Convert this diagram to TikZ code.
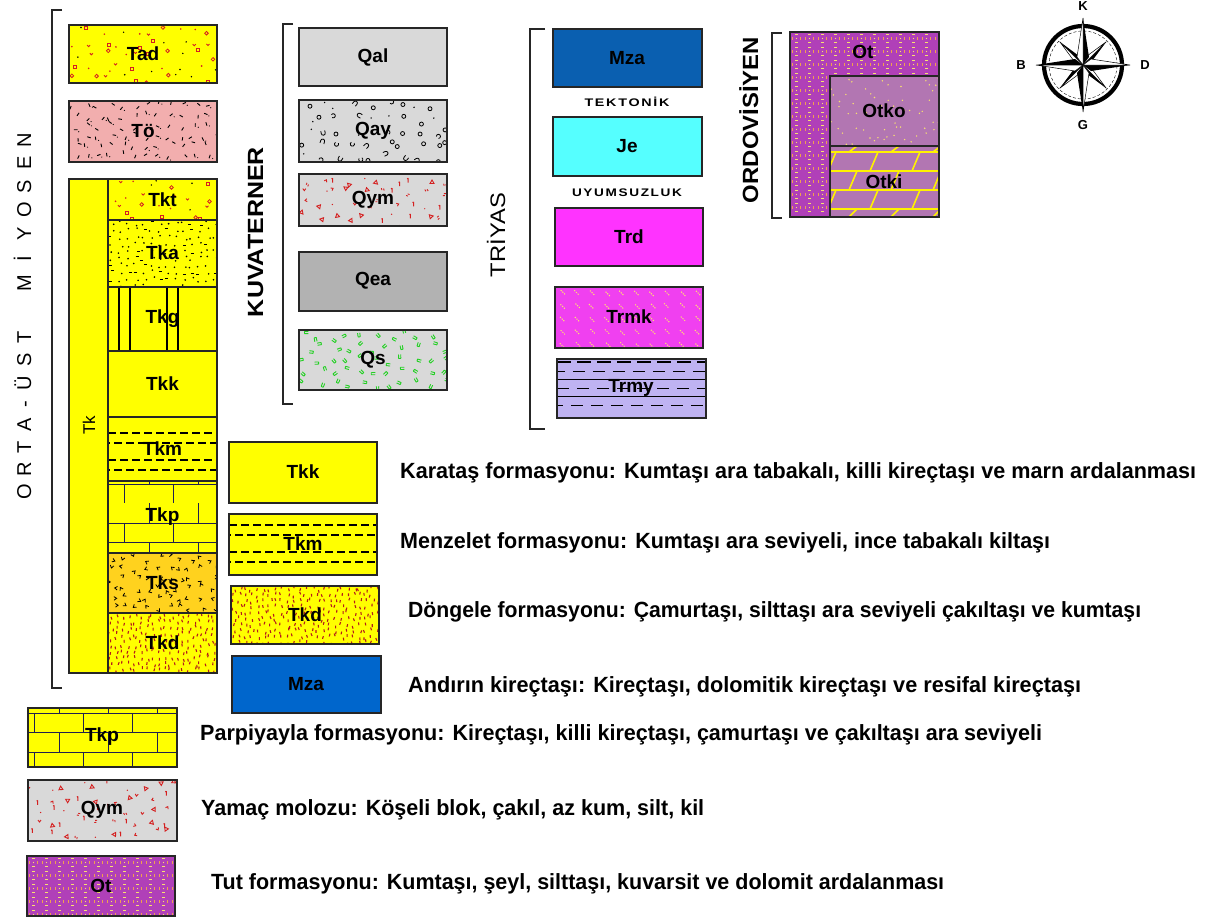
\documentclass[tikz,border=0pt]{standalone}
\usepackage{fontspec}
\usepackage{graphicx}
\setmainfont{Liberation Sans}
\usetikzlibrary{calc}
\newbox\fitbox
\newdimen\fitdim
\newcommand\fitw[2]{\setbox\fitbox=\hbox{#2}\fitdim=\wd\fitbox\pgfmathsetmacro\fitf{#1/\the\fitdim}\scalebox{\fitf}[1]{\box\fitbox}}
\definecolor{yel}{HTML}{FFFF00}
\definecolor{topink}{HTML}{F2AEAE}
\definecolor{tksor}{HTML}{FFD21E}
\definecolor{mzaA}{HTML}{0A5FB0}
\definecolor{mzaB}{HTML}{0066CC}
\definecolor{jecy}{HTML}{55FFFF}
\definecolor{trmag}{HTML}{FF33FF}
\definecolor{trmk}{HTML}{F040F0}
\definecolor{trmy}{HTML}{BFB3F2}
\definecolor{qlight}{HTML}{D9D9D9}
\definecolor{qdark}{HTML}{B2B2B2}
\definecolor{otpur}{HTML}{B040B8}
\definecolor{otko}{HTML}{B276B2}
\definecolor{redm}{HTML}{D42020}
\definecolor{greenm}{HTML}{22D022}
\definecolor{otdot}{HTML}{F0A050}
\definecolor{otdot2}{HTML}{F8E070}
\definecolor{brickln}{HTML}{202050}
\definecolor{trmkdash}{HTML}{FFE070}
% jittered scatter: x1 y1 x2 y2 dx dy jitter code
\newcommand\jscatter[8]{%
\begin{scope}
\clip (#1,#2) rectangle (#3,#4);
\pgfmathtruncatemacro\nxx{(#3-#1)/#5}%
\pgfmathtruncatemacro\nyy{(#4-#2)/#6}%
\foreach \ii in {0,...,\nxx}{%
\foreach \jj in {0,...,\nyy}{%
\pgfmathsetmacro\px{#1+(\ii+0.5)*#5+(rnd-0.5)*#7*#5}%
\pgfmathsetmacro\py{#2+(\jj+0.5)*#6+(rnd-0.5)*#7*#6}%
\pgfmathsetmacro\pa{rnd*360}%
\pgfmathtruncatemacro\pk{rnd*4.999}%
#8}}
\end{scope}}
\newcommand\mkTad{\ifcase\pk
\draw[redm,line width=0.9] (\px-1.5,\py-1.5) rectangle (\px+1.5,\py+1.5);
\or \draw[redm,line width=0.8] (\px,\py) circle[radius=1.8];
\or \fill[black] (\px,\py) circle[radius=0.8];
\or \draw[redm,line width=0.9] (\px-1.5,\py-0.5)--(\px,\py+1)--(\px+1.5,\py-0.5);
\or \fill[redm] (\px,\py) circle[radius=0.9];
\fi}
\newcommand\mkTo{\draw[line width=0.9,shift={(\px,\py)},rotate=\pa] (-1.8,0)--(1.8,0);\ifnum\pk<2 \fill (\px+3,\py+2) circle[radius=0.6];\fi}
\newcommand\mkDot{\ifnum\pk<4 \fill (\px,\py) circle[radius=0.9];\else \draw[line width=0.8] (\px-1.5,\py)--(\px+1.5,\py);\fi}
\newcommand\mkTks{\draw[line width=0.8,shift={(\px,\py)},rotate=\pa] (-2,-1.5)--(0,1)--(1.6,-1.8);}
\newcommand\mkTkd{\draw[redm!85!black,line width=1.1,shift={(\px,\py)},rotate=\pa/8-22] (0,-1.4)--(0,1.4);}
\newcommand\mkQay{\ifcase\pk
\draw[line width=0.8] (\px,\py) circle[radius=2];
\or \draw[line width=0.8,shift={(\px,\py)},rotate=\pa] (-2,-2)--(-2,0.5) arc[start angle=180,end angle=0,radius=2] -- (2,-2);
\or \fill (\px,\py) circle[radius=0.8];
\or \draw[line width=0.8,shift={(\px,\py)},rotate=\pa] (1.5,-1.5) arc[start angle=-45,end angle=-315,radius=2.1];
\or \draw[line width=0.8] (\px,\py) circle[radius=2];
\fi}
\newcommand\mkQym{\ifcase\pk
\draw[redm,line width=0.9,shift={(\px,\py)},rotate=\pa] (-1.5,-2)--(2,0)--(-1.5,2)--cycle;
\or \draw[redm,line width=1] (\px,\py-2.2)--(\px,\py+2.2) (\px-1,\py-1.5)--(\px,\py-2.2);
\or \draw[redm,line width=0.9,shift={(\px,\py)},rotate=\pa] (-2,0)--(0,0) (-1,-2)--(1,-2);
\or \draw[redm,line width=0.9,shift={(\px,\py)},rotate=\pa] (-2,-1.5)--(0,0)--(-2,1.5);
\or \fill[redm] (\px,\py) circle[radius=0.7];
\fi}
\newcommand\mkQs{\draw[greenm,line width=0.9,shift={(\px,\py)},rotate=\pa] (-1,-2)--(-1,2) (1.2,-2)--(1.2,2) (-1,-2)--(1.2,-2);}
\newcommand\mkTrmk{\draw[trmkdash,line width=1,dash pattern=on 1.2pt off 1.2pt] (\px-2.5,\py-2.5)--(\px+2.5,\py+2.5);}
\newcommand\mkOt{\draw[otdot,line width=1] (\px-4,\py-1.5)--(\px-4,\py+1.5) (\px+4,\py-1.5)--(\px+4,\py+1.5);
\draw[otdot2,line width=1] (\px-1.5,\py-4)--(\px+1.5,\py-4) (\px-1.5,\py+4)--(\px+1.5,\py+4);
\fill[otdot2] (\px,\py) circle[radius=0.7];}
\newcommand\mkOtko{\ifnum\pk<2 \fill[otdot2] (\px,\py) circle[radius=0.8];\fi}
\begin{document}
\begin{tikzpicture}[x=1pt,y=-1pt,
  edge/.style={draw=black!85,line width=1.4},
  brk/.style={draw=black!85,line width=1.3},
  lab/.style={font=\bfseries\fontsize{19}{20}\selectfont,inner sep=0pt},
  leg/.style={font=\bfseries\fontsize{22}{23}\selectfont,anchor=west,inner sep=0pt},
  vlab/.style={rotate=90,anchor=base,inner sep=0pt},
  cmp/.style={font=\bfseries\fontsize{13}{14}\selectfont,inner sep=0pt},
  small/.style={inner sep=0pt,font=\bfseries\fontsize{11}{12}\selectfont},
  tkm/.style={line width=1.1,dash pattern=on 8pt off 4pt}]
\pgfmathsetseed{7}
\useasboundingbox (0,0) rectangle (1207,918);
\fill[white] (0,0) rectangle (1207,918);

% ===== left column (Miyosen) =====
\draw[brk] (62,10)--(52,10)--(52,688)--(62,688);
\foreach \ch/\yy [count=\k] in {O/492,R/469,T/447,A/425,-/404,Ü/383,S/360,T/337,M/283,İ/259,Y/234,O/210,S/187,E/163,N/140}
  \node[vlab,font=\fontsize{20}{20}\selectfont] (my\k) at (31,\yy) {\ch};

\fill[yel] (69,25) rectangle (217,83);
\jscatter{69}{25}{217}{83}{15}{12}{0.8}{\mkTad}
\draw[edge] (69,25) rectangle (217,83);
\node[lab] (lTad) at (143,54) {Tad};

\fill[topink] (69,101) rectangle (217,162);
\jscatter{69}{101}{217}{162}{12}{10}{0.8}{\mkTo}
\draw[edge] (69,101) rectangle (217,162);
\node[lab] (lTo) at (143,131) {Tö};

\fill[yel] (69,179) rectangle (217,673);
% Tkt
\jscatter{108}{179}{217}{220}{15}{12}{0.8}{\mkTad}
\draw[edge] (108,179) rectangle (217,220);
% Tka
\jscatter{108}{220}{217}{287}{8}{7}{0.7}{\mkDot}
\draw[edge] (108,220) rectangle (217,287);
% Tkg
\draw[line width=1.1] (119,287)--(119,351) (130,287)--(130,351) (167,287)--(167,351) (178,287)--(178,351);
\draw[edge] (108,287) rectangle (217,351);
% Tkk
\draw[edge] (108,351) rectangle (217,417);
% Tkm
\draw[tkm] (108,433)--(217,433);
\draw[tkm,dash phase=6pt] (108,443)--(217,443);
\draw[tkm] (108,460)--(217,460);
\draw[tkm,dash phase=6pt] (108,470)--(217,470);
\draw[edge] (108,417) rectangle (217,481);
% Tkp
\draw[brickln,line width=1] (108,484)--(217,484) (108,523)--(217,523) (108,542)--(217,542);
\draw[brickln,line width=1] (124,484)--(124,503) (173,484)--(173,503) (149,503)--(149,523) (198,503)--(198,523)
  (124,523)--(124,542) (173,523)--(173,542) (149,542)--(149,553) (198,542)--(198,553) (149,481)--(149,484) (198,481)--(198,484);
\draw[edge] (108,481) rectangle (217,553);
% Tks
\fill[tksor] (108,553) rectangle (217,613);
\jscatter{108}{553}{217}{613}{11}{10}{0.8}{\mkTks}
\draw[edge] (108,553) rectangle (217,613);
% Tkd
\jscatter{108}{613}{217}{673}{6}{6}{0.8}{\mkTkd}
\draw[edge] (108,613) rectangle (217,673);
\draw[edge] (69,179) rectangle (217,673);
\draw[edge] (108,179)--(108,673);
\node[vlab,font=\fontsize{17}{17}\selectfont] (lTk) at (95,425) {Tk};
\node[lab] (lTkt) at (162.5,200) {Tkt};
\node[lab] (lTka) at (162.5,253) {Tka};
\node[lab] (lTkg) at (162.5,319) {Tkg};
\node[lab] (lTkk) at (162.5,384) {Tkk};
\node[lab] (lTkm) at (162.5,449) {Tkm};
\node[lab] (lTkp) at (162.5,517) {Tkp};
\node[lab] (lTks) at (162.5,583) {Tks};
\node[lab] (lTkd) at (162.5,643) {Tkd};

% ===== legend boxes to the right of the column =====
\fill[yel] (229,442) rectangle (377,503);
\draw[edge] (229,442) rectangle (377,503);
\node[lab] (lTkk2) at (303,472) {Tkk};

\fill[yel] (229,514) rectangle (377,575);
\draw[tkm] (229,525)--(377,525);
\draw[tkm,dash phase=6pt] (229,535)--(377,535);
\draw[tkm] (229,552)--(377,552);
\draw[tkm,dash phase=6pt] (229,562)--(377,562);
\draw[edge] (229,514) rectangle (377,575);
\node[lab] (lTkm2) at (303,544) {Tkm};

\fill[yel] (231,586) rectangle (379,644);
\jscatter{231}{586}{379}{644}{6}{6}{0.8}{\mkTkd}
\draw[edge] (231,586) rectangle (379,644);
\node[lab] (lTkd2) at (305,615) {Tkd};

\fill[mzaB] (232,656) rectangle (381,713);
\draw[edge] (232,656) rectangle (381,713);
\node[lab] (lMza2) at (306,684) {Mza};

% ===== lower legend boxes =====
\fill[yel] (28,708) rectangle (177,767);
\draw[brickln,line width=1] (28,713)--(177,713) (28,732)--(177,732) (28,752)--(177,752);
\draw[brickln,line width=1] (59,708)--(59,713) (108,708)--(108,713) (157,708)--(157,713)
  (34,713)--(34,732) (83,713)--(83,732) (132,713)--(132,732)
  (59,732)--(59,752) (108,732)--(108,752) (157,732)--(157,752)
  (34,752)--(34,767) (83,752)--(83,767) (132,752)--(132,767);
\draw[edge] (28,708) rectangle (177,767);
\node[lab] (lTkp3) at (102,737) {Tkp};

\fill[qlight] (28,780) rectangle (177,841);
\jscatter{28}{780}{177}{841}{15}{12}{0.8}{\mkQym}
\draw[edge] (28,780) rectangle (177,841);
\node[lab] (lQym3) at (102,810) {Qym};

\fill[otpur] (27,856) rectangle (175,916);
\jscatter{27}{856}{175}{916}{13}{13}{0}{\mkOt}
\draw[edge] (27,856) rectangle (175,916);
\node[lab] (lOt3) at (101,886) {Ot};

% ===== Kuvaterner =====
\draw[brk] (293,24)--(283,24)--(283,404)--(293,404);
\node[vlab,font=\bfseries\fontsize{22}{22}\selectfont] (lKuv) at (263,232) {\fitw{170}{KUVATERNER}};
\fill[qlight] (299,28) rectangle (447,86);
\draw[edge] (299,28) rectangle (447,86);
\node[lab] (lQal) at (373,57) {Qal};

\fill[qlight] (299,100) rectangle (447,162);
\jscatter{299}{100}{447}{162}{16}{13}{0.8}{\mkQay}
\draw[edge] (299,100) rectangle (447,162);
\node[lab] (lQay) at (373,131) {Qay};

\fill[qlight] (299,174) rectangle (447,226);
\jscatter{299}{174}{447}{226}{15}{12}{0.8}{\mkQym}
\draw[edge] (299,174) rectangle (447,226);
\node[lab] (lQym) at (373,200) {Qym};

\fill[qdark] (299,252) rectangle (447,311);
\draw[edge] (299,252) rectangle (447,311);
\node[lab] (lQea) at (373,281) {Qea};

\fill[qlight] (299,330) rectangle (447,390);
\jscatter{299}{330}{447}{390}{14}{12}{0.8}{\mkQs}
\draw[edge] (299,330) rectangle (447,390);
\node[lab] (lQs) at (373,360) {Qs};

% ===== Triyas =====
\draw[brk] (545,29)--(530,29)--(530,429)--(545,429);
\node[vlab,font=\fontsize{21}{21}\selectfont] (lTri) at (505,235) {\fitw{84}{TRİYAS}};
\fill[mzaA] (553,29) rectangle (702,87);
\draw[edge] (553,29) rectangle (702,87);
\node[lab] (lMza) at (627,58) {Mza};
\node[small] (lTek) at (627,102) {\fitw{85}{\addfontfeature{LetterSpace=12}TEKTONİK}};
\fill[jecy] (553,117) rectangle (702,176);
\draw[edge] (553,117) rectangle (702,176);
\node[lab] (lJe) at (627,146) {Je};
\node[small] (lUyu) at (627,193) {\fitw{110}{\addfontfeature{LetterSpace=12}UYUMSUZLUK}};
\fill[trmag] (555,208) rectangle (703,266);
\draw[edge] (555,208) rectangle (703,266);
\node[lab] (lTrd) at (629,237) {Trd};

\fill[trmk] (555,287) rectangle (703,348);
\jscatter{555}{287}{703}{348}{15}{13}{0.15}{\mkTrmk}
\draw[edge] (555,287) rectangle (703,348);
\node[lab] (lTrmk) at (629,317) {Trmk};

\fill[trmy] (557,359) rectangle (706,418);
\begin{scope}
\clip (557,359) rectangle (706,418);
\draw[line width=1.6,dash pattern=on 14pt off 6pt] (557,362)--(706,362);
\draw[line width=0.9,dash pattern=on 12pt off 8pt,dash phase=4pt] (557,371)--(706,371);
\draw[line width=0.9] (557,379)--(706,379);
\draw[line width=0.9,dash pattern=on 12pt off 8pt] (557,388)--(706,388);
\draw[line width=0.9] (557,396)--(706,396);
\draw[line width=0.9,dash pattern=on 12pt off 8pt,dash phase=6pt] (557,405)--(706,405);
\end{scope}
\draw[edge] (557,359) rectangle (706,418);
\node[lab] (lTrmy) at (631,388) {Trmy};

% ===== Ordovisiyen =====
\draw[brk] (782,33)--(772,33)--(772,218)--(782,218);
\node[vlab,font=\bfseries\fontsize{22}{22}\selectfont] (lOrd) at (758,120) {\fitw{166}{ORDOVİSİYEN}};
\fill[otpur] (790,32) rectangle (939,217);
\jscatter{790}{32}{939}{217}{13}{13}{0}{\mkOt}
\fill[otko] (830,76) rectangle (939,146);
\jscatter{830}{76}{939}{146}{7}{7}{0.9}{\mkOtko}
\fill[otko] (830,146) rectangle (939,217);
\begin{scope}
\clip (830,146) rectangle (939,217);
\draw[yellow,line width=2] (830,152)--(939,152) (830,171)--(939,171) (830,190)--(939,190) (830,209)--(939,209);
\foreach \ra/\rb/\off in {152/146/21,171/152/0,190/171/21,209/190/0,217/209/21}{
  \foreach \kk in {0,1,2,3}{
    \draw[yellow,line width=1.6] (828+\off+42*\kk,\ra)--(836+\off+42*\kk,\rb)--(841+\off+42*\kk,\rb);
  }}
\end{scope}
\draw[edge] (830,76) rectangle (939,146);
\draw[edge] (830,146) rectangle (939,217);
\draw[edge] (790,32) rectangle (939,217);
\node[lab] (lOt) at (863,52) {Ot};
\node[lab] (lOtko) at (884,111) {Otko};
\node[lab] (lOtki) at (884,182) {Otki};

% ===== compass =====
\begin{scope}[shift={(1083,65)},yscale=-1]
\draw[line width=4.2] (0,0) circle[radius=39];
\draw[line width=0.4,densely dashed] (0,0) circle[radius=34];
\foreach \a in {45,135,225,315}{
  \fill (0,0) -- (\a:33) -- ($(\a:6)+(\a-90:4)$) -- cycle;
  \filldraw[fill=white,line width=0.5] (0,0) -- (\a:33) -- ($(\a:6)+(\a+90:4)$) -- cycle;
}
\foreach \a in {0,90,180,270}{
  \fill (0,0) -- (\a:47) -- ($(\a:8)+(\a-90:6)$) -- cycle;
  \filldraw[fill=white,line width=0.5] (0,0) -- (\a:47) -- ($(\a:8)+(\a+90:6)$) -- cycle;
}
\end{scope}
\node[cmp] (cK) at (1083,6) {K};
\node[cmp] (cB) at (1021,65) {B};
\node[cmp] (cD) at (1145,65) {D};
\node[cmp] (cG) at (1083,125) {G};

% ===== legend texts =====
\node[leg] (t1) at (400,473) {\fitw{796}{Karataş formasyonu: Kumtaşı ara tabakalı, killi kireçtaşı ve marn ardalanması}};
\node[leg] (t2) at (400,543) {\fitw{650}{Menzelet formasyonu: Kumtaşı ara seviyeli, ince tabakalı kiltaşı}};
\node[leg] (t3) at (408,612) {\fitw{733}{Döngele formasyonu: Çamurtaşı, silttaşı ara seviyeli çakıltaşı ve kumtaşı}};
\node[leg] (t4) at (408,687) {\fitw{673}{Andırın kireçtaşı: Kireçtaşı, dolomitik kireçtaşı ve resifal kireçtaşı}};
\node[leg] (t5) at (200,735) {\fitw{842}{Parpiyayla formasyonu: Kireçtaşı, killi kireçtaşı, çamurtaşı ve çakıltaşı ara seviyeli}};
\node[leg] (t6) at (201,810) {\fitw{503}{Yamaç molozu: Köşeli blok, çakıl, az kum, silt, kil}};
\node[leg] (t7) at (211,884) {\fitw{733}{Tut formasyonu: Kumtaşı, şeyl, silttaşı, kuvarsit ve dolomit ardalanması}};
\end{tikzpicture}
\end{document}
